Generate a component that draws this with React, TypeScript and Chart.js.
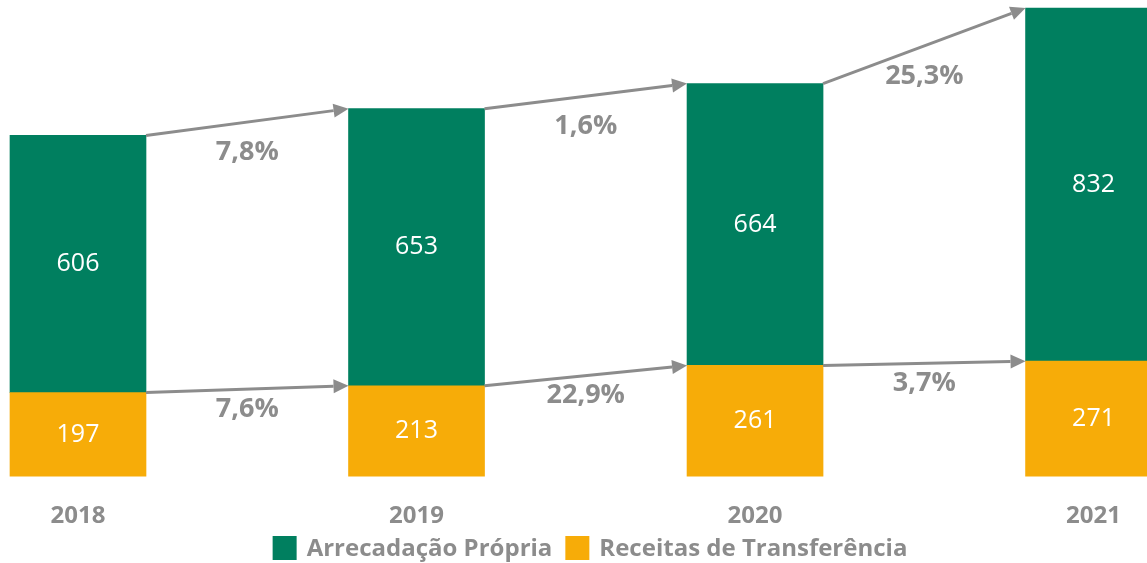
import React, { useEffect, useRef } from "react";
import { Chart, registerables } from "chart.js";

Chart.register(...registerables);

const categories = ["2018", "2019", "2020", "2021"];
const receitasTransferencia = [197, 213, 261, 271];
const arrecadacaoPropria = [606, 653, 664, 832];
const growthPropria = ["7,8%", "1,6%", "25,3%"];
const growthTransferencia = ["7,6%", "22,9%", "3,7%"];

const GREEN = "#007F5F";
const ORANGE = "#F7AC08";
const GRAY = "#8C8C8C";
const FONT = "'Open Sans', 'Noto Sans', sans-serif";

const overlayPlugin = {
  id: "overlay",
  afterDatasetsDraw(chart: any) {
    const ctx = chart.ctx;
    const orangeMeta = chart.getDatasetMeta(0);
    const greenMeta = chart.getDatasetMeta(1);

    ctx.save();
    ctx.fillStyle = "#FFFFFF";
    ctx.font = `25px ${FONT}`;
    ctx.textAlign = "center";
    ctx.textBaseline = "middle";
    [orangeMeta, greenMeta].forEach((meta: any, di: number) => {
      const vals = di === 0 ? receitasTransferencia : arrecadacaoPropria;
      meta.data.forEach((bar: any, i: number) => {
        const y = (bar.y + bar.base) / 2;
        ctx.fillText(String(vals[i]), bar.x, y);
      });
    });
    ctx.restore();

    const drawArrow = (x1: number, y1: number, x2: number, y2: number) => {
      const ang = Math.atan2(y2 - y1, x2 - x1);
      const headLen = 15;
      const headW = 7;
      const bx = x2 - headLen * Math.cos(ang);
      const by = y2 - headLen * Math.sin(ang);
      ctx.beginPath();
      ctx.moveTo(x1, y1);
      ctx.lineTo(bx, by);
      ctx.stroke();
      ctx.beginPath();
      ctx.moveTo(x2, y2);
      ctx.lineTo(bx + headW * Math.sin(ang), by - headW * Math.cos(ang));
      ctx.lineTo(bx - headW * Math.sin(ang), by + headW * Math.cos(ang));
      ctx.closePath();
      ctx.fill();
    };

    ctx.save();
    ctx.strokeStyle = GRAY;
    ctx.fillStyle = GRAY;
    ctx.lineWidth = 3;
    ctx.font = `bold 27px ${FONT}`;
    ctx.textAlign = "center";
    ctx.textBaseline = "middle";
    [greenMeta, orangeMeta].forEach((meta: any, di: number) => {
      const labels = di === 0 ? growthPropria : growthTransferencia;
      const offset = di === 0 ? 30 : 20;
      for (let i = 0; i < meta.data.length - 1; i++) {
        const a = meta.data[i];
        const b = meta.data[i + 1];
        const x1 = a.x + a.width / 2;
        const x2 = b.x - b.width / 2;
        drawArrow(x1, a.y, x2, b.y);
        ctx.fillText(labels[i], (x1 + x2) / 2, (a.y + b.y) / 2 + offset);
      }
    });
    ctx.restore();
  },
  afterDraw(chart: any) {
    const ctx = chart.ctx;
    const items = [chart.data.datasets[1], chart.data.datasets[0]];
    ctx.save();
    ctx.font = `bold 24px ${FONT}`;
    ctx.textBaseline = "middle";
    ctx.textAlign = "left";
    const box = 24;
    const gapBox = 10;
    const gapItem = 13;
    const widths = items.map((d: any) => box + gapBox + ctx.measureText(d.label).width);
    const total = widths.reduce((s: number, w: number) => s + w, 0) + gapItem * (items.length - 1);
    let x = 590 - total / 2;
    const cy = 548;
    items.forEach((d: any, i: number) => {
      ctx.fillStyle = d.backgroundColor;
      ctx.fillRect(x, cy - box / 2, box, box);
      ctx.fillStyle = GRAY;
      ctx.fillText(d.label, x + box + gapBox, cy + 1);
      x += widths[i] + gapItem;
    });
    ctx.restore();
  },
};

export default function App() {
  const canvasRef = useRef<HTMLCanvasElement | null>(null);

  useEffect(() => {
    const canvas = canvasRef.current;
    if (!canvas) return;
    const chart = new Chart(canvas, {
      type: "bar",
      data: {
        labels: categories,
        datasets: [
          {
            label: "Receitas de Transferência",
            data: receitasTransferencia,
            backgroundColor: ORANGE,
            barThickness: 136,
            clip: false as any,
          },
          {
            label: "Arrecadação Própria",
            data: arrecadacaoPropria,
            backgroundColor: GREEN,
            barThickness: 136,
            clip: false as any,
          },
        ],
      },
      options: {
        animation: false,
        responsive: false,
        maintainAspectRatio: false,
        layout: { padding: { left: 78, right: 53, top: 0, bottom: 6 } },
        scales: {
          x: {
            stacked: true,
            offset: false,
            grid: { display: false, drawTicks: false },
            border: { display: false },
            ticks: {
              color: GRAY,
              font: { family: FONT, size: 24, weight: "bold" },
              padding: 26,
            },
          },
          y: {
            stacked: true,
            display: false,
            min: 0,
            max: 1122,
          },
        },
        plugins: {
          tooltip: { enabled: false },
          legend: { display: false },
        },
      },
      plugins: [overlayPlugin],
    });
    return () => chart.destroy();
  }, []);

  return (
    <div style={{ position: "fixed", left: 0, top: 0, width: 1147, height: 563, background: "#fff" }}>
      <canvas ref={canvasRef} width={1147} height={563} style={{ width: 1147, height: 563 }} />
    </div>
  );
}
